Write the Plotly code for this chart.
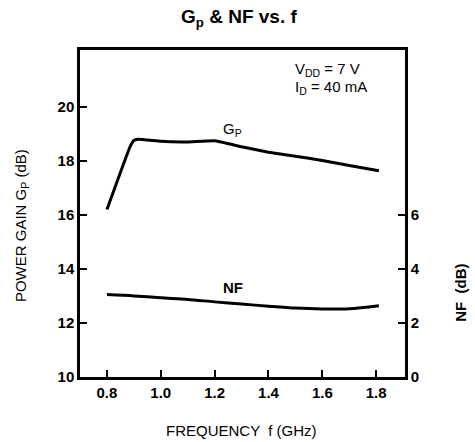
import plotly.graph_objects as go

# Data
freq_gp = [0.80, 0.885, 0.90, 0.915, 1.00, 1.10, 1.20, 1.30, 1.40, 1.50, 1.60, 1.70, 1.81]
gain_gp = [16.2, 18.50, 18.75, 18.80, 18.72, 18.70, 18.74, 18.52, 18.32, 18.17, 18.01, 17.83, 17.63]

freq_nf = [0.80, 0.90, 1.00, 1.10, 1.20, 1.30, 1.40, 1.50, 1.60, 1.70, 1.81]
noise_nf = [3.05, 3.00, 2.93, 2.87, 2.78, 2.70, 2.62, 2.55, 2.52, 2.53, 2.64]

x_ticks = [0.8, 1.0, 1.2, 1.4, 1.6, 1.8]
x_ticktext = ["0.8", "1.0", "1.2", "1.4", "1.6", "1.8"]
gp_ticks = [10, 12, 14, 16, 18, 20]
nf_ticks = [0, 2, 4, 6]

FONT = "Liberation Sans, Arial, sans-serif"

fig = go.Figure()
fig.add_trace(go.Scatter(x=freq_gp, y=gain_gp, mode="lines",
                         line=dict(color="black", width=3, shape="spline", smoothing=0.3),
                         name="Gp", yaxis="y"))
fig.add_trace(go.Scatter(x=freq_nf, y=noise_nf, mode="lines",
                         line=dict(color="black", width=3, shape="spline", smoothing=0.8),
                         name="NF", yaxis="y2"))

axis_common = dict(showline=True, linecolor="black", linewidth=2.5, ticks="inside",
                   ticklen=7, tickwidth=2, tickcolor="black", showgrid=False, zeroline=False,
                   tickfont=dict(family=FONT, size=15, color="black", weight="bold"))

fig.update_layout(
    width=475, height=442,
    margin=dict(l=80, r=70, t=50, b=65),
    paper_bgcolor="white", plot_bgcolor="white",
    showlegend=False,
    xaxis=dict(range=[0.70, 1.907], tickvals=x_ticks, ticktext=x_ticktext, mirror=True, **axis_common),
    yaxis=dict(range=[10, 22.1], tickvals=gp_ticks, **axis_common),
    yaxis2=dict(range=[0, 12.1], tickvals=nf_ticks, overlaying="y", side="right", **axis_common),
    annotations=[
        dict(text="G<sub>p</sub> & NF vs. f", x=0.489, y=1.098, xref="paper", yref="paper",
             showarrow=False, xanchor="center", yanchor="middle",
             font=dict(family=FONT, size=19, color="black", weight="bold")),
        dict(text="V<sub>DD</sub> = 7 V", x=0.655, y=0.939, xref="paper", yref="paper",
             showarrow=False, xanchor="left", yanchor="middle",
             font=dict(family=FONT, size=15, color="black")),
        dict(text="I<sub>D</sub> = 40 mA", x=0.655, y=0.884, xref="paper", yref="paper",
             showarrow=False, xanchor="left", yanchor="middle",
             font=dict(family=FONT, size=15, color="black")),
        dict(text="G<sub>P</sub>", x=1.265, y=19.15, xref="x", yref="y",
             showarrow=False, xanchor="center", yanchor="middle",
             font=dict(family=FONT, size=15, color="black")),
        dict(text="NF", x=1.27, y=3.3, xref="x", yref="y2",
             showarrow=False, xanchor="center", yanchor="middle",
             font=dict(family=FONT, size=15, color="black", weight="bold")),
        dict(text="POWER GAIN G<sub>P</sub> (dB)", x=-0.178, y=0.462, xref="paper", yref="paper",
             showarrow=False, textangle=-90, xanchor="center", yanchor="middle",
             font=dict(family=FONT, size=15, color="black")),
        dict(text="NF  (dB)", x=1.172, y=0.257, xref="paper", yref="paper",
             showarrow=False, textangle=-90, xanchor="center", yanchor="middle",
             font=dict(family=FONT, size=15, color="black", weight="bold")),
        dict(text="FREQUENCY  f (GHz)", x=0.498, y=-0.165, xref="paper", yref="paper",
             showarrow=False, xanchor="center", yanchor="middle",
             font=dict(family=FONT, size=15, color="black")),
    ],
)

fig.write_html("out.html", config={"displayModeBar": False},
               post_script="document.body.style.margin='0px';")
